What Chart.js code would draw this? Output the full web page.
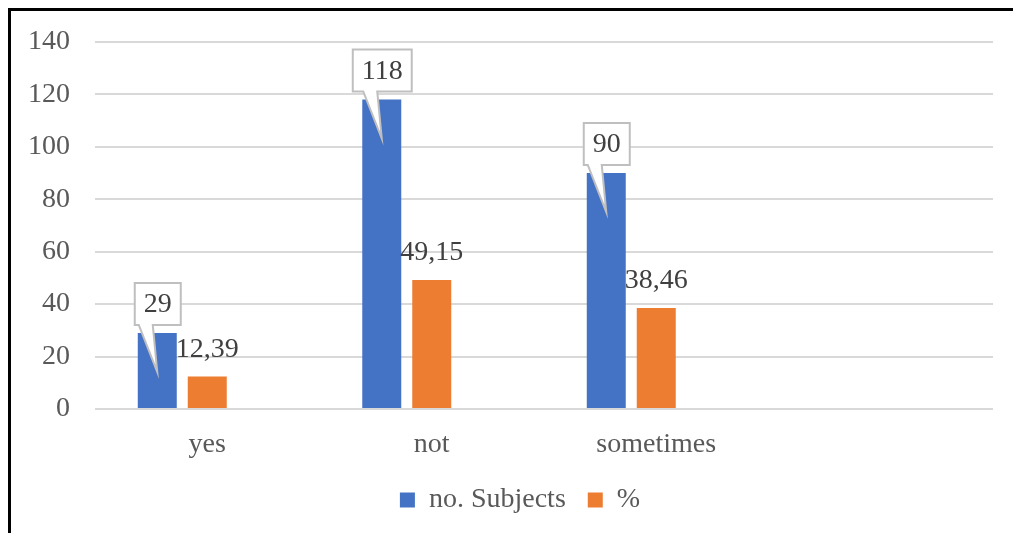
<!DOCTYPE html>
<html>
<head>
<meta charset="utf-8">
<style>
  html, body { margin: 0; padding: 0; background: #fff; }
  #wrap { position: relative; width: 1013px; height: 533px; overflow: hidden; }
  #frame { position: absolute; left: 8px; top: 8px; width: 1100px; height: 600px;
           border-left: 3px solid #000; border-top: 3px solid #000; box-sizing: border-box; }
  canvas { position: absolute; left: 0; top: 0; }
</style>
<script src="https://cdn.jsdelivr.net/npm/chart.js@4/dist/chart.umd.min.js"></script>
</head>
<body>
<div id="wrap">
  <div id="frame"></div>
  <canvas id="c" width="1013" height="533"></canvas>
</div>
<script>
// Survey answers
const categories = ['yes', 'not', 'sometimes', ''];
const subjects = [29, 118, 90, null];
const percent = [12.39, 49.15, 38.46, null];
const spare = [null, null, null, null];
const yTicks = [0, 20, 40, 60, 80, 100, 120, 140];

const FONT = "'Liberation Serif', 'Times New Roman', serif";
const fmt = v => String(v).replace('.', ',');

// Value labels: callouts for the subject counts, plain text for percentages
const valueLabels = {
  id: 'valueLabels',
  afterDatasetsDraw(chart) {
    const ctx = chart.ctx;
    ctx.save();
    ctx.font = '28px ' + FONT;
    ctx.textAlign = 'center';
    ctx.textBaseline = 'middle';

    const m0 = chart.getDatasetMeta(0);
    m0.data.forEach((bar, i) => {
      const v = subjects[i];
      if (v == null) return;
      const txt = fmt(v);
      const w = ctx.measureText(txt).width + 18;
      const h = 42;
      const cx = bar.x + 0.5;
      const bottom = bar.y - 8;
      const top = bottom - h;
      const left = cx - w / 2, right = cx + w / 2;
      const tipX = bar.x, tipY = bar.y + 39;
      ctx.beginPath();
      ctx.moveTo(left, top);
      ctx.lineTo(right, top);
      ctx.lineTo(right, bottom);
      ctx.lineTo(cx - 5, bottom);
      ctx.lineTo(tipX, tipY);
      ctx.lineTo(cx - 19, bottom);
      ctx.lineTo(left, bottom);
      ctx.closePath();
      ctx.fillStyle = '#ffffff';
      ctx.fill();
      ctx.strokeStyle = '#bfbfbf';
      ctx.lineWidth = 2;
      ctx.stroke();
      ctx.fillStyle = '#404040';
      ctx.fillText(txt, cx, (top + bottom) / 2 + 1);
    });

    const m1 = chart.getDatasetMeta(1);
    m1.data.forEach((bar, i) => {
      const v = percent[i];
      if (v == null) return;
      ctx.fillStyle = '#404040';
      ctx.fillText(fmt(v), bar.x, bar.y - 27);
    });
    ctx.restore();
  }
};

// Nudge the legend row slightly right of the canvas centre
const legendShift = {
  id: 'legendShift',
  afterLayout(chart) {
    const lg = chart.legend;
    if (lg) { lg.left += 10; lg.right += 10; }
  }
};

new Chart(document.getElementById('c'), {
  type: 'bar',
  data: {
    labels: categories,
    datasets: [
      { label: 'no. Subjects', data: subjects, backgroundColor: '#4472C4' },
      { label: '%', data: percent, backgroundColor: '#ED7D31' },
      { label: '', data: spare, backgroundColor: 'rgba(0,0,0,0)' }
    ]
  },
  options: {
    responsive: false,
    animation: false,
    devicePixelRatio: 1,
    categoryPercentage: 0.668,
    barPercentage: 0.78,
    layout: { padding: { left: 27, right: 20, top: 39, bottom: 9 } },
    scales: {
      x: {
        grid: { display: false, drawTicks: false },
        border: { display: false },
        ticks: { color: '#595959', font: { family: FONT, size: 28 }, padding: 19 },
        afterFit(s) { s.height = 55; }
      },
      y: {
        min: 0, max: 140,
        afterBuildTicks(s) { s.ticks = yTicks.map(v => ({ value: v })); },
        grid: { color: '#d9d9d9', lineWidth: 2, drawTicks: false },
        border: { display: false },
        ticks: { color: '#595959', font: { family: FONT, size: 28 }, padding: 25 },
        afterFit(s) { s.width = 68; }
      }
    },
    plugins: {
      legend: {
        position: 'bottom',
        labels: {
          color: '#595959',
          font: { family: FONT, size: 28 },
          boxWidth: 15, boxHeight: 15,
          padding: 22,
          filter: item => item.datasetIndex < 2
        }
      },
      tooltip: { enabled: false }
    }
  },
  plugins: [valueLabels, legendShift]
});
</script>
</body>
</html>
